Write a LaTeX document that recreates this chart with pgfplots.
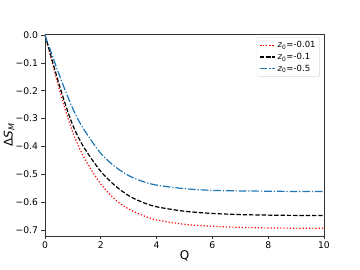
\documentclass[border=0pt]{standalone}
\usepackage{fontspec}
\setmainfont{DejaVu Sans}
\usepackage{pgfplots}
\pgfplotsset{compat=1.18}
\definecolor{mplblue}{HTML}{1F77B4}
\begin{document}
\begin{tikzpicture}[x=1pt,y=1pt]
\path[use as bounding box] (0,0) rectangle (360,270);
\begin{axis}[
  at={(45pt,34pt)}, anchor=south west,
  scale only axis, width=279pt, height=202pt,
  xmin=0, xmax=10, ymin=-0.722, ymax=0.004,
  xtick={0,2,4,6,8,10},
  ytick={-0.7,-0.6,-0.5,-0.4,-0.3,-0.2,-0.1,0},
  yticklabels={−0.7,−0.6,−0.5,−0.4,−0.3,−0.2,−0.1,0.0},
  tick align=outside, tick pos=left,
  major tick length=3.5pt,
  every tick/.style={black!80, line width=0.6pt},
  axis line style={black!80, line width=0.6pt},
  ticklabel style={font=\fontsize{9.2}{10}\selectfont},
  xticklabel style={yshift=1pt},
  /pgf/number format/assume math mode=true,
  xlabel={Q}, ylabel={Δ\textit{S}\textsubscript{\textit{M}}},
  label style={font=\fontsize{12}{13}\selectfont},
  xlabel style={at={(0.5,0)}, anchor=north, yshift=-11pt},
  ylabel style={at={(0,0.5)}, anchor=south, yshift=27pt},
  legend style={at={(0.985,0.985)}, anchor=north east, font=\fontsize{8.5}{10}\selectfont,
    draw=black!15, rounded corners=1.5pt, inner sep=2pt, row sep=0pt},
  legend cell align=left,
  legend image post style={xscale=0.9},
  clip=true,
]
\addplot[red, line width=1.2pt, dash pattern=on 1.2pt off 2pt, smooth] coordinates {
(0,0) (0.25,-0.095) (0.5,-0.19) (0.75,-0.275) (1,-0.35) (1.25,-0.41) (1.5,-0.458) (2,-0.535) (2.5,-0.59) (3,-0.625) (3.5,-0.648) (4,-0.664) (5,-0.680) (6,-0.687) (7,-0.691) (8,-0.693) (9,-0.694) (10,-0.694)};
\addlegendentry{\textit{z}\textsubscript{0}=-0.01}
\addplot[black, line width=1.2pt, dash pattern=on 4.4pt off 1.9pt, smooth] coordinates {
(0,0) (0.25,-0.088) (0.5,-0.175) (0.75,-0.255) (1,-0.325) (1.25,-0.378) (1.5,-0.42) (2,-0.49) (2.5,-0.54) (3,-0.577) (3.5,-0.601) (4,-0.617) (5,-0.633) (6,-0.641) (7,-0.645) (8,-0.647) (9,-0.648) (10,-0.648)};
\addlegendentry{\textit{z}\textsubscript{0}=-0.1}
\addplot[mplblue, line width=1.2pt, dash pattern=on 7.7pt off 1.9pt on 1.2pt off 1.9pt, smooth] coordinates {
(0,0) (0.25,-0.07) (0.5,-0.14) (0.75,-0.205) (1,-0.265) (1.25,-0.315) (1.5,-0.355) (2,-0.425) (2.5,-0.472) (3,-0.505) (3.5,-0.526) (4,-0.539) (5,-0.552) (6,-0.558) (7,-0.560) (8,-0.561) (9,-0.562) (10,-0.562)};
\addlegendentry{\textit{z}\textsubscript{0}=-0.5}
\end{axis}
\end{tikzpicture}
\end{document}
